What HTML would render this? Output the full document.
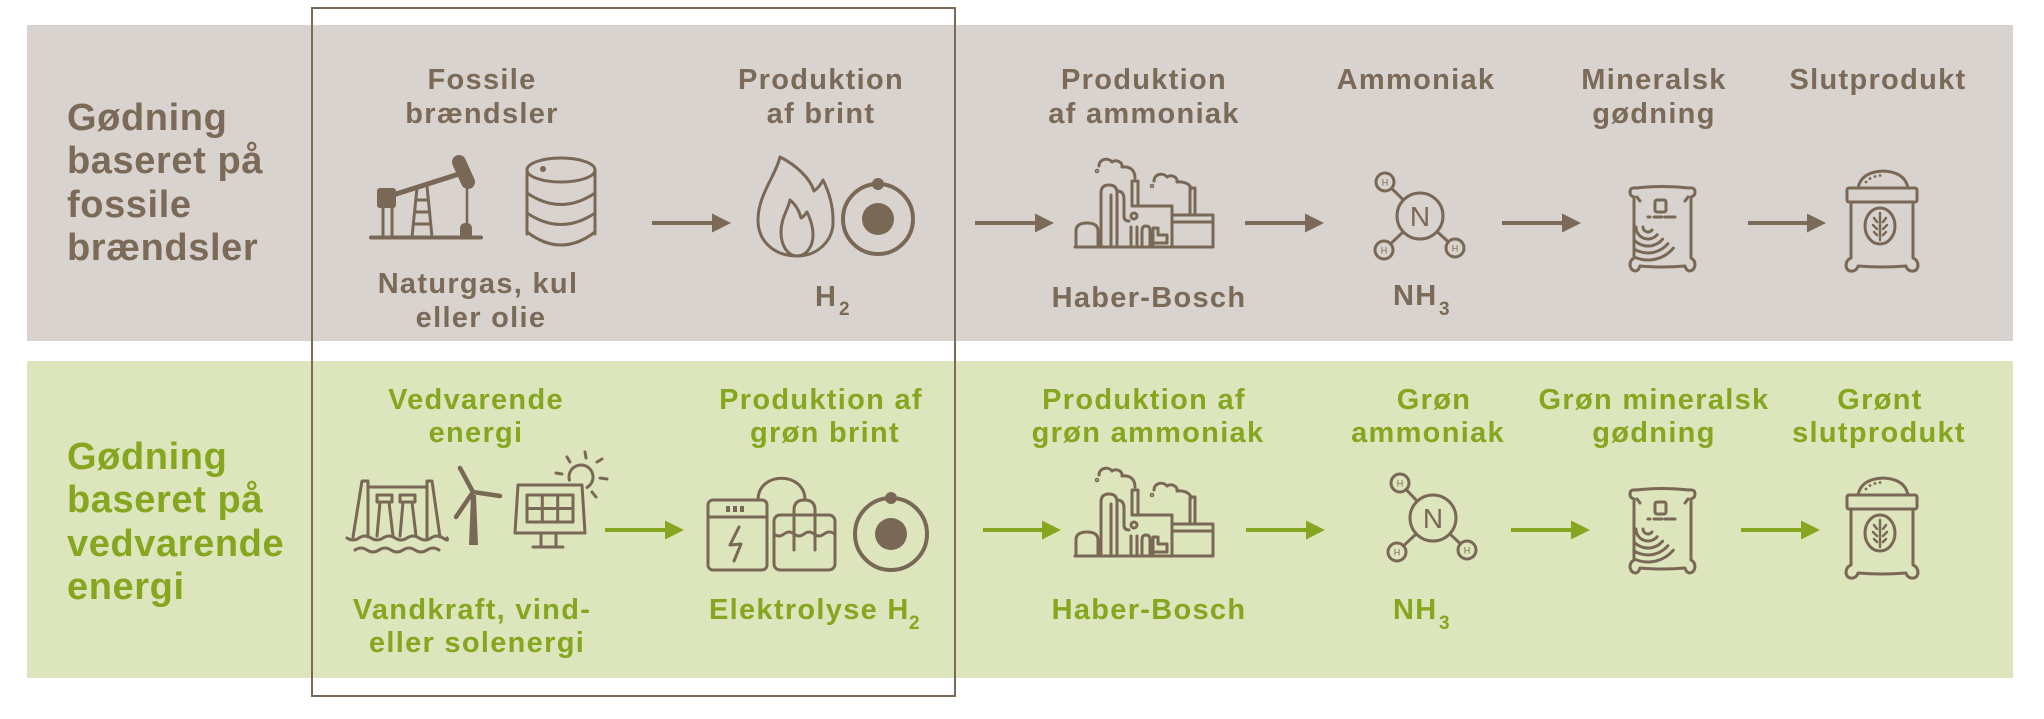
<!DOCTYPE html>
<html>
<head>
<meta charset="utf-8">
<style>
html,body{margin:0;padding:0;background:#fff;}
svg{display:block;}
text{font-family:"Liberation Sans",Arial,sans-serif;font-weight:bold;}
.t{font-size:38px;letter-spacing:0.6px;}
.h{font-size:29px;letter-spacing:1.3px;text-anchor:middle;}
.hs{font-size:29px;letter-spacing:1.3px;}
.sub{font-size:19px;}
.br{fill:#7b6a58;}
.gr{fill:#86a620;}
.ic{fill:none;stroke:#7a6856;stroke-width:3;stroke-linecap:round;stroke-linejoin:round;}
.icf{fill:#7a6856;}
</style>
</head>
<body>
<svg width="2044" height="719" viewBox="0 0 2044 719" xmlns="http://www.w3.org/2000/svg">
<defs>
  <clipPath id="bagclip"><rect x="7" y="10" width="55" height="70"/></clipPath>
</defs>
<rect width="2044" height="719" fill="#ffffff"/>
<!-- bands -->
<rect x="27" y="25" width="1986" height="316" fill="#d8d3ce"/>
<rect x="27" y="361" width="1986" height="317" fill="#dde5bc"/>

<!-- ===== TOP ROW TEXT ===== -->
<g class="br">
  <text class="t" x="67" y="130">Gødning</text>
  <text class="t" x="67" y="173">baseret på</text>
  <text class="t" x="67" y="217">fossile</text>
  <text class="t" x="67" y="260">brændsler</text>

  <text class="h" x="482" y="89">Fossile</text>
  <text class="h" x="482" y="123">brændsler</text>
  <text class="h" x="821" y="89">Produktion</text>
  <text class="h" x="821" y="123">af brint</text>
  <text class="h" x="1144" y="89">Produktion</text>
  <text class="h" x="1144" y="123">af ammoniak</text>
  <text class="h" x="1416" y="89">Ammoniak</text>
  <text class="h" x="1654" y="89">Mineralsk</text>
  <text class="h" x="1654" y="123">gødning</text>
  <text class="h" x="1878" y="89">Slutprodukt</text>

  <text class="h" x="478" y="293">Naturgas, kul</text>
  <text class="h" x="481" y="327">eller olie</text>
  <text class="hs" x="815" y="306">H</text>
  <text class="sub" x="839" y="315">2</text>
  <text class="h" x="1149" y="307">Haber-Bosch</text>
  <text class="hs" x="1393" y="305">NH</text>
  <text class="sub" x="1439" y="315">3</text>
</g>

<!-- ===== BOTTOM ROW TEXT ===== -->
<g class="gr">
  <text class="t" x="67" y="469">Gødning</text>
  <text class="t" x="67" y="512">baseret på</text>
  <text class="t" x="67" y="556">vedvarende</text>
  <text class="t" x="67" y="599">energi</text>

  <text class="h" x="476" y="409">Vedvarende</text>
  <text class="h" x="476" y="442">energi</text>
  <text class="h" x="821" y="409">Produktion af</text>
  <text class="h" x="825" y="442">grøn brint</text>
  <text class="h" x="1144" y="409">Produktion af</text>
  <text class="h" x="1148" y="442">grøn ammoniak</text>
  <text class="h" x="1434" y="409">Grøn</text>
  <text class="h" x="1428" y="442">ammoniak</text>
  <text class="h" x="1654" y="409">Grøn mineralsk</text>
  <text class="h" x="1654" y="442">gødning</text>
  <text class="h" x="1880" y="409">Grønt</text>
  <text class="h" x="1879" y="442">slutprodukt</text>

  <text class="h" x="472" y="619">Vandkraft, vind-</text>
  <text class="h" x="477" y="652">eller solenergi</text>
  <text class="hs" x="709" y="619">Elektrolyse H</text>
  <text class="sub" x="909" y="629">2</text>
  <text class="h" x="1149" y="619">Haber-Bosch</text>
  <text class="hs" x="1393" y="619">NH</text>
  <text class="sub" x="1439" y="629">3</text>
</g>

<!-- ===== ARROWS ===== -->
<g stroke="#7b6a58" stroke-width="4" fill="none">
  <line x1="652" y1="223" x2="714" y2="223"/>
  <line x1="975" y1="223" x2="1037" y2="223"/>
  <line x1="1245" y1="223" x2="1307" y2="223"/>
  <line x1="1502" y1="223" x2="1564" y2="223"/>
  <line x1="1748" y1="223" x2="1809" y2="223"/>
</g>
<g fill="#7b6a58">
  <polygon points="712,213.5 731,223 712,232.5"/>
  <polygon points="1035,213.5 1054,223 1035,232.5"/>
  <polygon points="1305,213.5 1324,223 1305,232.5"/>
  <polygon points="1562,213.5 1581,223 1562,232.5"/>
  <polygon points="1807,213.5 1826,223 1807,232.5"/>
</g>
<g stroke="#86a620" stroke-width="4" fill="none">
  <line x1="605" y1="530" x2="667" y2="530"/>
  <line x1="983" y1="530" x2="1044" y2="530"/>
  <line x1="1246" y1="530" x2="1308" y2="530"/>
  <line x1="1511" y1="530" x2="1573" y2="530"/>
  <line x1="1741" y1="530" x2="1803" y2="530"/>
</g>
<g fill="#86a620">
  <polygon points="665,520.5 684,530 665,539.5"/>
  <polygon points="1042,520.5 1061,530 1042,539.5"/>
  <polygon points="1306,520.5 1325,530 1306,539.5"/>
  <polygon points="1571,520.5 1590,530 1571,539.5"/>
  <polygon points="1801,520.5 1820,530 1801,539.5"/>
</g>

<!-- ===== PUMPJACK ===== -->
<g>
  <rect class="icf" x="369" y="235.5" width="114" height="4" rx="2"/>
  <rect class="icf" x="377" y="188" width="19" height="20" rx="3"/>
  <line class="ic" x1="383" y1="207" x2="383" y2="237"/>
  <line class="ic" x1="392" y1="207" x2="392" y2="237"/>
  <line x1="393" y1="195" x2="459" y2="174" stroke="#7a6856" stroke-width="5" stroke-linecap="round"/>
  <g class="ic" stroke-width="2.5">
    <line x1="417" y1="188" x2="412" y2="237"/>
    <line x1="427" y1="186" x2="432" y2="237"/>
    <line x1="416" y1="200" x2="428" y2="200"/>
    <line x1="415" y1="212" x2="429" y2="212"/>
    <line x1="414" y1="224" x2="430" y2="224"/>
  </g>
  <line x1="459" y1="162" x2="468" y2="182" stroke="#7a6856" stroke-width="14" stroke-linecap="round"/>
  <line x1="467" y1="185" x2="467" y2="226" stroke="#7a6856" stroke-width="2.5"/>
  <path class="icf" d="M460,238 V229 Q460,223 466,223 Q472,223 472,229 V238 Z"/>
</g>

<!-- ===== BARREL ===== -->
<g class="ic" stroke-width="4">
  <ellipse cx="561" cy="170" rx="34" ry="12"/>
  <line x1="527" y1="170" x2="527" y2="234"/>
  <line x1="595" y1="170" x2="595" y2="234"/>
  <path d="M527,193 Q561,216 595,193"/>
  <path d="M527,213 Q561,236 595,213"/>
  <path d="M527,232 Q561,258 595,232"/>
</g>
<circle class="icf" cx="543" cy="169" r="3"/>

<!-- ===== FLAME ===== -->
<g class="ic" stroke-width="3.5">
  <path d="M780,157 C776,175 758,195 758,220 C758,242 775,256 797,256 C818,256 834,240 833,220 C833,205 829,192 823,180 C820,186 817,189 814,191 C810,178 796,165 780,157 Z"/>
  <path d="M790,200 C788,210 781,218 781,232 C781,246 788,256 797,256 C806,256 813,247 813,235 C813,226 810,218 807,212 C805,215 803,217 801,218 C799,210 795,204 790,200 Z"/>
</g>

<!-- ===== ATOM TOP ===== -->
<circle cx="878" cy="219" r="35" fill="none" stroke="#7a6856" stroke-width="4"/>
<circle class="icf" cx="878" cy="219" r="16"/>
<circle class="icf" cx="878" cy="184" r="6"/>

<!-- ===== FACTORY (top) ===== -->
<g class="ic">
  <line x1="1075" y1="247" x2="1213" y2="247"/>
  <path d="M1076,247 V231 Q1076,223 1087,223 Q1098,223 1098,231 V247"/>
  <path d="M1101,247 V193 Q1101,185 1109,185 Q1117,185 1117,193 V247"/>
  <path d="M1111,247 V195"/>
  <path d="M1117,191 Q1124,191 1124,199 V216 Q1124,221 1129,221"/>
  <rect x="1132" y="181" width="6" height="25"/>
  <path d="M1135,206 H1172 V247"/>
  <rect x="1172" y="215" width="41" height="32"/>
  <line x1="1172" y1="222" x2="1213" y2="222"/>
  <rect x="1190" y="188" width="5" height="27"/>
  <circle cx="1134" cy="216" r="3"/>
  <path d="M1131,247 V227 M1137,247 V227"/>
  <path d="M1142,247 V231 Q1142,226 1146,226 Q1150,226 1150,231 V247"/>
  <path d="M1153,247 V228 H1158 V235 H1167 V243 H1155"/>
  <path d="M1099,166 C1099,159 1108,157 1112,162 C1116,159 1123,162 1122,167 C1130,166 1135,170 1135,178"/>
  <path d="M1154,181 C1154,174 1163,172 1167,177 C1171,174 1178,177 1177,182 C1185,181 1191,185 1191,189"/>
  <circle cx="1097" cy="171" r="0.8"/>
  <circle cx="1152" cy="186" r="0.8"/>
</g>
<!-- FACTORY (bottom) -->
<g class="ic" transform="translate(0,309)">
  <line x1="1075" y1="247" x2="1213" y2="247"/>
  <path d="M1076,247 V231 Q1076,223 1087,223 Q1098,223 1098,231 V247"/>
  <path d="M1101,247 V193 Q1101,185 1109,185 Q1117,185 1117,193 V247"/>
  <path d="M1111,247 V195"/>
  <path d="M1117,191 Q1124,191 1124,199 V216 Q1124,221 1129,221"/>
  <rect x="1132" y="181" width="6" height="25"/>
  <path d="M1135,206 H1172 V247"/>
  <rect x="1172" y="215" width="41" height="32"/>
  <line x1="1172" y1="222" x2="1213" y2="222"/>
  <rect x="1190" y="188" width="5" height="27"/>
  <circle cx="1134" cy="216" r="3"/>
  <path d="M1131,247 V227 M1137,247 V227"/>
  <path d="M1142,247 V231 Q1142,226 1146,226 Q1150,226 1150,231 V247"/>
  <path d="M1153,247 V228 H1158 V235 H1167 V243 H1155"/>
  <path d="M1099,166 C1099,159 1108,157 1112,162 C1116,159 1123,162 1122,167 C1130,166 1135,170 1135,178"/>
  <path d="M1154,181 C1154,174 1163,172 1167,177 C1171,174 1178,177 1177,182 C1185,181 1191,185 1191,189"/>
  <circle cx="1097" cy="171" r="0.8"/>
  <circle cx="1152" cy="186" r="0.8"/>
</g>

<!-- ===== MOLECULES ===== -->
<g transform="translate(1420,216)">
  <g class="ic" stroke-width="3.5">
    <circle cx="0" cy="0" r="23"/>
    <circle cx="-35" cy="-34" r="9" stroke-width="3"/>
    <circle cx="-36" cy="34" r="9" stroke-width="3"/>
    <circle cx="35" cy="32" r="9" stroke-width="3"/>
    <line x1="-16.5" y1="-16" x2="-28.5" y2="-27.7" stroke-width="3"/>
    <line x1="-16.7" y1="15.8" x2="-29.5" y2="27.8" stroke-width="3"/>
    <line x1="17" y1="15.5" x2="28.3" y2="25.9" stroke-width="3"/>
  </g>
  <text x="0" y="10" text-anchor="middle" font-size="28" style="font-weight:normal" fill="#7a6856">N</text>
  <text x="-35" y="-30.5" text-anchor="middle" font-size="9" style="font-weight:normal" fill="#7a6856">H</text>
  <text x="-36" y="37.5" text-anchor="middle" font-size="9" style="font-weight:normal" fill="#7a6856">H</text>
  <text x="35" y="35.5" text-anchor="middle" font-size="9" style="font-weight:normal" fill="#7a6856">H</text>
</g>
<g transform="translate(1433,518)">
  <g class="ic" stroke-width="3.5">
    <circle cx="0" cy="0" r="23"/>
    <circle cx="-33" cy="-35" r="9" stroke-width="3"/>
    <circle cx="-36" cy="34" r="9" stroke-width="3"/>
    <circle cx="34" cy="32" r="9" stroke-width="3"/>
    <line x1="-15.8" y1="-16.8" x2="-27" y2="-28.6" stroke-width="3"/>
    <line x1="-16.7" y1="15.8" x2="-29.5" y2="27.8" stroke-width="3"/>
    <line x1="16.8" y1="15.8" x2="27.5" y2="25.9" stroke-width="3"/>
  </g>
  <text x="0" y="10" text-anchor="middle" font-size="28" style="font-weight:normal" fill="#7a6856">N</text>
  <text x="-33" y="-31.5" text-anchor="middle" font-size="9" style="font-weight:normal" fill="#7a6856">H</text>
  <text x="-36" y="37.5" text-anchor="middle" font-size="9" style="font-weight:normal" fill="#7a6856">H</text>
  <text x="34" y="35.5" text-anchor="middle" font-size="9" style="font-weight:normal" fill="#7a6856">H</text>
</g>

<!-- ===== MINERAL BAGS ===== -->
<g transform="translate(1628,185)">
  <g class="ic" stroke-width="3.2">
    <path d="M8,3 Q34,0 61,3 Q67,2 67,7 Q67,11 63,12 L63,73 Q67,75 67,80 Q66,86 61,86 Q58,85 57,81 Q34,83 12,81 Q11,85 8,86 Q3,86 2,80 Q2,75 6,73 L6,12 Q2,11 2,7 Q2,2 8,3 Z"/>
    <rect x="27" y="15" width="11" height="12" rx="2"/>
    <path d="M20,32 h2 M26,32 h8 M37,32 h10"/>
    <path d="M9,12 L12,16 M60,12 L57,16"/>
    <g clip-path="url(#bagclip)">
      <path d="M15,42 A5,5 0 0 0 24,45"/>
      <path d="M8,42 A12,12 0 0 0 29.2,49.7"/>
      <path d="M1,42 A19,19 0 0 0 34.6,54.2"/>
      <path d="M-6,42 A26,26 0 0 0 39.9,58.7"/>
      <path d="M-13,42 A33,33 0 0 0 45.3,63.2"/>
    </g>
  </g>
</g>
<g transform="translate(1628,487)">
  <g class="ic" stroke-width="3.2">
    <path d="M8,3 Q34,0 61,3 Q67,2 67,7 Q67,11 63,12 L63,73 Q67,75 67,80 Q66,86 61,86 Q58,85 57,81 Q34,83 12,81 Q11,85 8,86 Q3,86 2,80 Q2,75 6,73 L6,12 Q2,11 2,7 Q2,2 8,3 Z"/>
    <rect x="27" y="15" width="11" height="12" rx="2"/>
    <path d="M20,32 h2 M26,32 h8 M37,32 h10"/>
    <path d="M9,12 L12,16 M60,12 L57,16"/>
    <g clip-path="url(#bagclip)">
      <path d="M15,42 A5,5 0 0 0 24,45"/>
      <path d="M8,42 A12,12 0 0 0 29.2,49.7"/>
      <path d="M1,42 A19,19 0 0 0 34.6,54.2"/>
      <path d="M-6,42 A26,26 0 0 0 39.9,58.7"/>
      <path d="M-13,42 A33,33 0 0 0 45.3,63.2"/>
    </g>
  </g>
</g>

<!-- ===== SACKS ===== -->
<g>
  <g class="ic" stroke-width="3.2">
    <path d="M1858,188 Q1861,172 1883,171 Q1905,172 1908,188"/>
    <rect x="1847" y="188" width="70" height="14" rx="2"/>
    <path d="M1851,202 L1851,258 Q1846,260 1846,266 Q1847,272 1853,271 Q1857,270 1858,266 Q1882,268 1906,266 Q1907,270 1911,271 Q1917,272 1918,266 Q1918,260 1913,258 L1913,202"/>
    <ellipse cx="1880" cy="226" rx="15" ry="18"/>
    <line x1="1880" y1="213" x2="1880" y2="240" stroke-width="2.5"/>
    <path d="M1874,218 L1877,222 M1873,225 L1877,229 M1874,232 L1877,235 M1886,218 L1883,222 M1887,225 L1883,229 M1886,232 L1883,235" stroke-width="2.5"/>
  </g>
  <circle class="icf" cx="1866" cy="182" r="1.4"/>
  <circle class="icf" cx="1870" cy="178.5" r="1.4"/>
  <circle class="icf" cx="1875" cy="176.5" r="1.4"/>
  <circle class="icf" cx="1880" cy="175.5" r="1.4"/>
</g>
<g transform="translate(0,307)">
  <g class="ic" stroke-width="3.2">
    <path d="M1858,188 Q1861,172 1883,171 Q1905,172 1908,188"/>
    <rect x="1847" y="188" width="70" height="14" rx="2"/>
    <path d="M1851,202 L1851,258 Q1846,260 1846,266 Q1847,272 1853,271 Q1857,270 1858,266 Q1882,268 1906,266 Q1907,270 1911,271 Q1917,272 1918,266 Q1918,260 1913,258 L1913,202"/>
    <ellipse cx="1880" cy="226" rx="15" ry="18"/>
    <line x1="1880" y1="213" x2="1880" y2="240" stroke-width="2.5"/>
    <path d="M1874,218 L1877,222 M1873,225 L1877,229 M1874,232 L1877,235 M1886,218 L1883,222 M1887,225 L1883,229 M1886,232 L1883,235" stroke-width="2.5"/>
  </g>
  <circle class="icf" cx="1866" cy="182" r="1.4"/>
  <circle class="icf" cx="1870" cy="178.5" r="1.4"/>
  <circle class="icf" cx="1875" cy="176.5" r="1.4"/>
  <circle class="icf" cx="1880" cy="175.5" r="1.4"/>
</g>

<!-- ===== RENEWABLES ===== -->
<g class="ic" stroke-width="2.5">
  <path d="M353,537 L362,481 L368,481 L368,537"/>
  <path d="M440,537 L432,481 L427,481 L427,537"/>
  <line x1="368" y1="487" x2="427" y2="487"/>
  <rect x="377" y="495" width="15" height="7"/>
  <rect x="400" y="495" width="15" height="7"/>
  <path d="M380,502 L377,536 M389,502 L393,536"/>
  <path d="M403,502 L400,536 M412,502 L416,536"/>
  <path d="M347,538 q6,4 12,0 t12,0 t12,0 t12,0 t12,0 t12,0 t12,0 t12,0 t4,0"/>
  <path d="M355,550 q6,-4 12,0 t12,0 t12,0 t12,0 t12,0 t12,0 t12,0"/>
  <path d="M518,485 L582,485 L585,533 L515,533 Z"/>
  <rect x="527" y="495" width="46" height="27" stroke-width="3"/>
  <line x1="542.3" y1="495" x2="542.3" y2="522" stroke-width="3"/>
  <line x1="557.7" y1="495" x2="557.7" y2="522" stroke-width="3"/>
  <line x1="527" y1="508.5" x2="573" y2="508.5" stroke-width="3"/>
  <path d="M541,533 V547 M556,533 V547 M533,547 H563"/>
  <path d="M569.4,480.1 A12,12 0 1 1 587,487.4"/>
  <path d="M585,452 L586,458 M567,457 L570,462 M556,473 L562,474 M597,462 L602,459 M600,478 L607,479 M592,492 L596,497"/>
</g>
<polygon class="icf" points="471,495 476,495 478,545 469,545"/>
<g stroke="#7a6856" stroke-width="4.5" stroke-linecap="round" fill="none">
  <line x1="473" y1="492" x2="460" y2="468"/>
  <line x1="473" y1="492" x2="500" y2="496"/>
  <line x1="473" y1="492" x2="456" y2="517"/>
</g>

<!-- ===== ELECTROLYSIS ===== -->
<g class="ic" stroke-width="3.2">
  <rect x="708" y="500" width="59" height="70" rx="5"/>
  <line x1="708" y1="517" x2="767" y2="517"/>
  <polyline points="739,527 730,545 741,544 734,561"/>
  <rect x="774" y="515" width="61" height="55" rx="6"/>
  <path d="M774,534 q5,4 10,0 t10,0 t10,0 t10,0 t10,0 t11,0"/>
  <path d="M794,550 L794,510 Q794,500 804.5,500 Q815,500 815,510 L815,550"/>
  <path d="M758,500 C758,471 805,471 805,500"/>
</g>
<rect class="icf" x="726" y="506" width="4" height="6"/>
<rect class="icf" x="733" y="506" width="4" height="6"/>
<rect class="icf" x="740" y="506" width="4" height="6"/>

<!-- ===== ATOM BOTTOM ===== -->
<circle cx="891" cy="534" r="36" fill="none" stroke="#7a6856" stroke-width="4"/>
<circle class="icf" cx="891" cy="534" r="16"/>
<circle class="icf" cx="891" cy="498" r="6"/>

<!-- ===== HIGHLIGHT BOX ===== -->
<rect x="312" y="8" width="643" height="688" fill="none" stroke="#7b6a58" stroke-width="2"/>
</svg>
</body>
</html>
